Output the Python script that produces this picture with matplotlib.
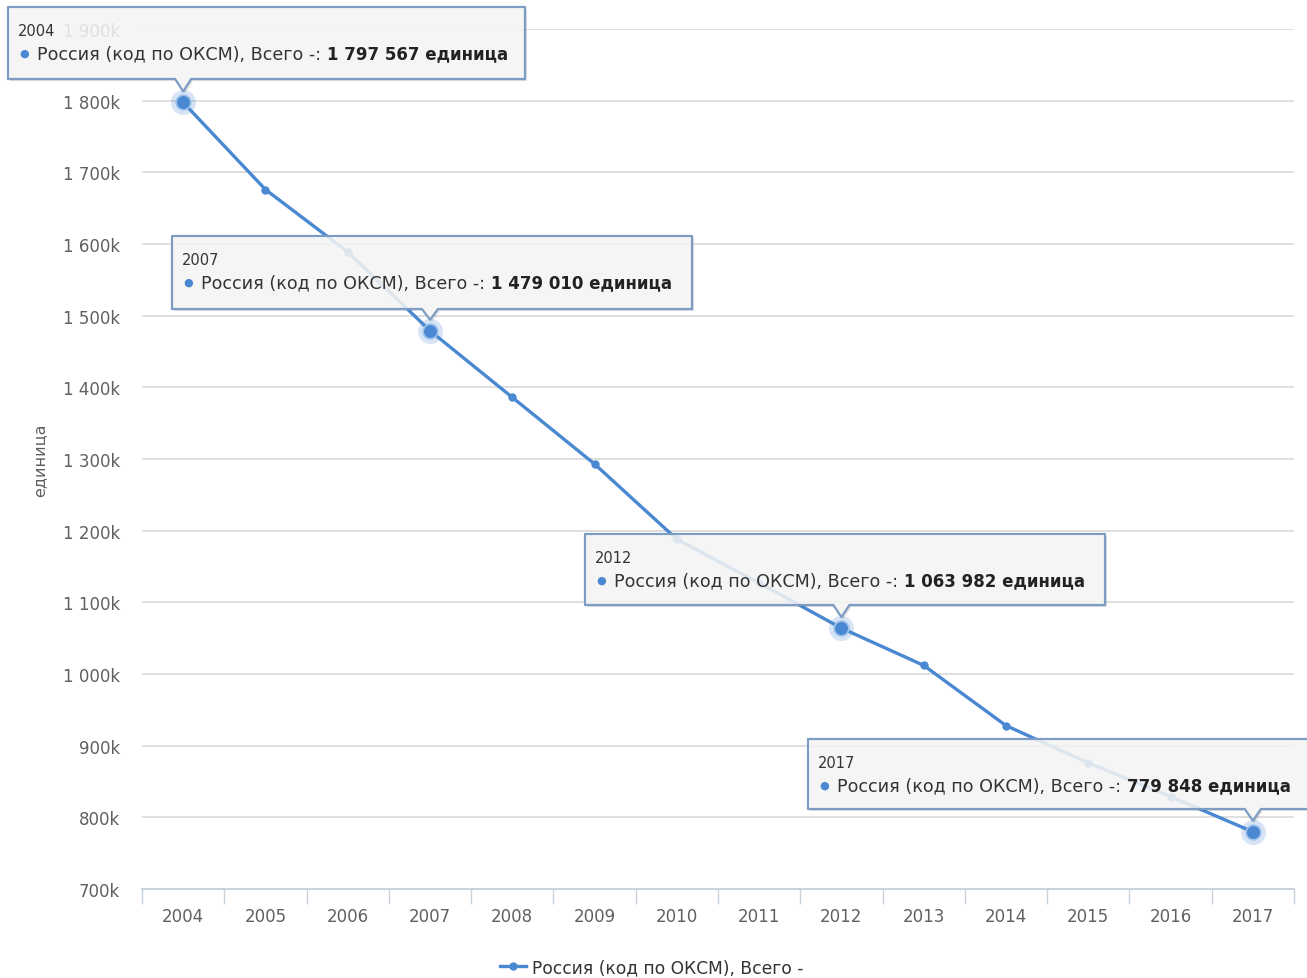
import matplotlib
matplotlib.use("Agg")
import matplotlib.pyplot as plt
from matplotlib.path import Path
from matplotlib.patches import PathPatch
from matplotlib.transforms import IdentityTransform

# ---- data ----
years = ['2004', '2005', '2006', '2007', '2008', '2009', '2010',
         '2011', '2012', '2013', '2014', '2015', '2016', '2017']
values = [1797567, 1676000, 1589000, 1479010, 1386000, 1293000, 1188000,
          1127000, 1063982, 1012000, 928000, 876000, 829000, 779848]
series_name = 'Россия (код по ОКСМ), Всего -'
y_label = 'единица'
unit = 'единица'
hover_years = ['2004', '2007', '2012', '2017']
y_ticks = [700000, 800000, 900000, 1000000, 1100000, 1200000, 1300000,
           1400000, 1500000, 1600000, 1700000, 1800000, 1900000]

# ---- style ----
W, H = 1307, 979
COLOR = '#4a88d2'
GRID = '#d9d9d9'
LABEL = '#606060'
FONT = 'DejaVu Sans'
plt.rcParams['font.family'] = [FONT]


def fmt_k(v):
    k = v // 1000
    s = f"{k:,}".replace(',', ' ')
    return s + 'k'


def fmt_num(v):
    return f"{v:,}".replace(',', ' ')


fig = plt.figure(figsize=(W / 100, H / 100), dpi=100)
left, right, top, bottom = 142, 1294, 30, 890
ax = fig.add_axes([left / W, 1 - bottom / H, (right - left) / W, (bottom - top) / H])

x = list(range(len(years)))
ax.set_xlim(-0.5, len(years) - 0.5)
ax.set_ylim(700000, 1900000)

for yt in y_ticks[1:]:
    ax.axhline(yt, color=GRID, lw=1.2, zorder=0)
ax.set_xticks([i - 0.5 for i in range(len(years) + 1)], minor=False)
ax.set_xticklabels([])
ax.set_xticks(x, minor=True)
ax.set_xticklabels(years, minor=True)
ax.tick_params(axis='x', which='major', length=11, width=1, color='#c8d2dc', direction='out')
ax.tick_params(axis='x', which='minor', length=0, pad=13, labelsize=12, labelcolor=LABEL)
ax.set_yticks(y_ticks)
ax.set_yticklabels([fmt_k(v) for v in y_ticks])
ax.tick_params(axis='y', length=0, pad=16, labelsize=12, labelcolor=LABEL)
for s in ['top', 'right', 'left']:
    ax.spines[s].set_visible(False)
ax.spines['bottom'].set_color('#c0cad6')
ax.spines['bottom'].set_linewidth(1.2)
ax.set_facecolor('white')

line, = ax.plot(x, values, color=COLOR, lw=2.4, marker='o', ms=6,
                markeredgewidth=0, zorder=3, label=series_name)

hx = [years.index(h) for h in hover_years]
hv = [values[i] for i in hx]
ax.plot(hx, hv, 'o', ms=18, color=COLOR, alpha=0.22, markeredgewidth=0, zorder=4)
ax.plot(hx, hv, 'o', ms=10.5, color=COLOR, markeredgewidth=1.2,
        markeredgecolor='#9cc2ec', zorder=5)

fig.text(40 / W, 1 - 460 / H, y_label, rotation=90, ha='center', va='center',
         fontsize=11.5, color=LABEL)

leg = ax.legend(handles=[line], loc='center', frameon=False,
                bbox_to_anchor=(652 / W, 1 - 968 / H), bbox_transform=fig.transFigure,
                handlelength=1.5, handletextpad=0.35, fontsize=12.3)
for t in leg.get_texts():
    t.set_color('#333333')

# ---- tooltips (layout in pixels, y down) ----
boxes = {
    '2004': (8, 8, 525, 80),
    '2007': (172, 237, 692, 310),
    '2012': (585, 535, 1105, 606),
    '2017': (808, 740, 1315, 810),
}
fig.canvas.draw()
renderer = fig.canvas.get_renderer()
ident = IdentityTransform()

for yr in hover_years:
    i = years.index(yr)
    v = values[i]
    px, py = ax.transData.transform((i, v))
    x0, yt_, x1, yb_ = boxes[yr]
    Yt, Yb = H - yt_, H - yb_
    tipY = py + 11
    verts = [(x0, Yb), (px - 8, Yb), (px, tipY), (px + 8, Yb), (x1, Yb),
             (x1, Yt), (x0, Yt), (x0, Yb)]
    codes = [Path.MOVETO] + [Path.LINETO] * 6 + [Path.CLOSEPOLY]
    sh = [(a + 2, b - 2) for a, b in verts]
    fig.add_artist(PathPatch(Path(sh, codes), transform=ident, facecolor='#000000',
                             alpha=0.12, edgecolor='none', zorder=9))
    fig.add_artist(PathPatch(Path(verts, codes), transform=ident,
                             facecolor=(0.975, 0.975, 0.975, 0.85),
                             edgecolor='#7d9cc3', lw=1.6, joinstyle='round', zorder=10))
    fig.add_artist(plt.Text(x0 + 10, Yt - 24, yr, transform=ident, fontsize=10.5,
                            color='#333333', va='center', ha='left', zorder=11))
    fig.add_artist(plt.Text(x0 + 11, Yt - 46, '●', transform=ident, fontsize=8,
                            color=COLOR, va='center', ha='left', zorder=11))
    t1 = plt.Text(x0 + 29, Yt - 46, series_name + ': ', transform=ident, fontsize=12.6,
                  color='#333333', va='center', ha='left', zorder=11)
    fig.add_artist(t1)
    bb = t1.get_window_extent(renderer)
    fig.add_artist(plt.Text(bb.x1, Yt - 46, fmt_num(v) + ' ' + unit, transform=ident,
                            fontsize=12, fontweight='bold', color='#222222',
                            va='center', ha='left', zorder=11))

fig.savefig('out.png', dpi=100, facecolor='white')
